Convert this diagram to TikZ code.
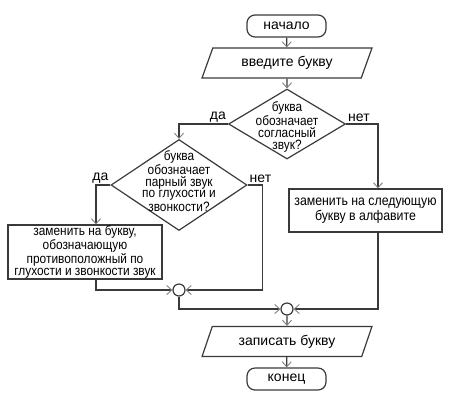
\documentclass[tikz,border=0pt]{standalone}
\usepackage{fontspec}
\setmainfont{Liberation Sans}
\newfontfamily\condfont[FakeStretch=0.88]{Liberation Sans}
\usetikzlibrary{arrows.meta,shapes.geometric,calc}
\definecolor{ln}{HTML}{3A3A3A}
\definecolor{ah}{HTML}{808080}
\tikzset{
  base/.style={draw=ln, line width=1.2bp, inner sep=0pt, font=\fontsize{14bp}{16bp}\selectfont},
  term/.style={base, rounded corners=8bp, minimum width=79bp, minimum height=22bp},
  io/.style={base, trapezium, trapezium left angle=63.4, trapezium right angle=116.6,
     trapezium stretches=true, minimum width=170bp, minimum height=30bp},
  dia/.style={base, diamond},
  proc/.style={base, rectangle},
  dtext/.style={align=center, inner sep=0pt, font=\condfont\fontsize{13.5bp}{11.8bp}\selectfont},
  btext/.style={align=center, font=\condfont\fontsize{13.5bp}{11.8bp}\selectfont},
  jn/.style={draw=ln, line width=1.2bp, circle, minimum size=12bp, inner sep=0pt},
  conn/.style={draw=ln, line width=1.2bp, -{Straight Barb[length=5bp,width=9bp,line width=0.9bp,color=ah]}},
  lbl/.style={font=\fontsize{14bp}{16bp}\selectfont, inner sep=1.5bp}
}
\begin{document}
\begin{tikzpicture}[x=1bp,y=-1bp]
\useasboundingbox (0,0) rectangle (469,400);
\node[term] (start) at (286.5,26) {начало};
\node[io] (in) at (287,63) {введите букву};
\node[dia, minimum width=117bp, minimum height=70bp,
  label={[dtext, yshift=-3bp]center:{буква\\обозначает\\согласный\\звук?}}] (d1) at (287,124) {};
\node[dia, minimum width=136bp, minimum height=91bp,
  label={[dtext, yshift=4bp]center:{буква\\обозначает\\парный звук\\по глухости и\\звонкости?}}] (d2) at (179,185) {};
\node[proc, minimum width=154bp, minimum height=54bp, btext] (boxL) at (85,252)
  {заменить на букву,\\обозначающую\\противоположный по\\глухости и звонкости звук};
\node[proc, minimum width=153bp, minimum height=43bp, align=center,
  font=\condfont\fontsize{14bp}{15bp}\selectfont] (boxR) at (365.5,210.5)
  {заменить на следующую\\букву в алфавите};
\node[jn] (c1) at (179,290) {};
\node[jn] (c2) at (287,309) {};
\node[io] (out) at (287,341.5) {записать букву};
\node[term] (end) at (286.5,379) {конец};

\draw[conn] (start) -- (in);
\draw[conn] (in) -- (d1);
\draw[conn] (d1.west) node[lbl, above left] {да} -| (d2.north);
\draw[conn] (d1.east) node[lbl, above right] {нет} -| ([xshift=12.5bp]boxR.north);
\draw[conn] (d2.west) node[lbl, above left] {да} -| ([xshift=11bp]boxL.north);
\draw[conn] (d2.east) node[lbl, above right] {нет} -- ++(15,0) |- (c1.east);
\draw[conn] ([xshift=11bp]boxL.south) |- (c1.west);
\draw[conn] (c1.south) |- (c2.west);
\draw[conn] ([xshift=12.5bp]boxR.south) |- (c2.east);
\draw[conn] (c2) -- (out);
\draw[conn] (out) -- (end);
\end{tikzpicture}
\end{document}
